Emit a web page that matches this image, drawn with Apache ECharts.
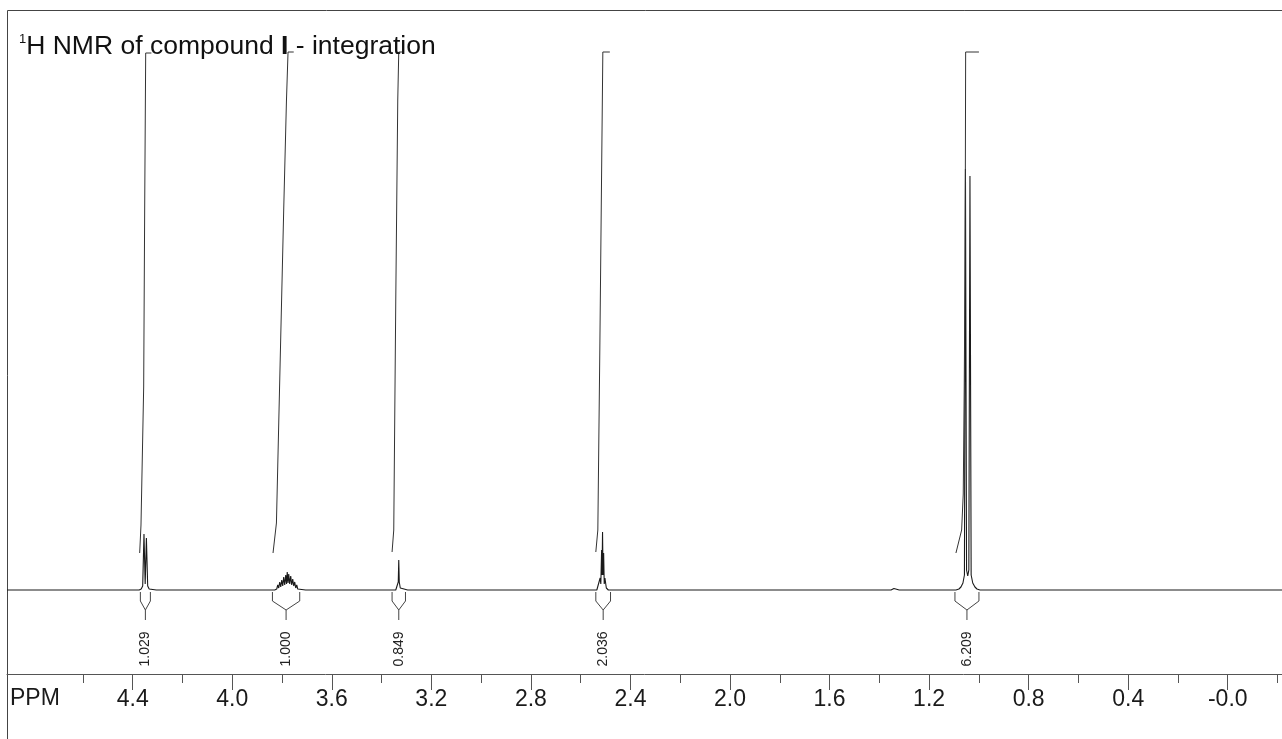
<!DOCTYPE html>
<html>
<head>
<meta charset="utf-8">
<script src="https://cdn.jsdelivr.net/npm/echarts@6/dist/echarts.min.js"></script>
<style>
html,body{margin:0;padding:0;background:#fff;}
#chart{width:1282px;height:739px;}
</style>
</head>
<body>
<div id="chart"></div>
<script>
// ---- axis extents and ticks (ppm) ----
const ppmLeft = 4.905;
const ppmRight = -0.218;
const majorTickValues = [4.4, 4.0, 3.6, 3.2, 2.8, 2.4, 2.0, 1.6, 1.2, 0.8, 0.4, 0.0];
const majorTickLabels = ['4.4', '4.0', '3.6', '3.2', '2.8', '2.4', '2.0', '1.6', '1.2', '0.8', '0.4', '-0.0'];
const minorTickValues = [4.6, 4.2, 3.8, 3.4, 3.0, 2.6, 2.2, 1.8, 1.4, 1.0, 0.6, 0.2, -0.2];

// ---- spectrum trace, [ppm, intensity] ----
const peak435 = [[4.395,0],[4.3739,0],[4.3658,1],[4.3598,4],[4.3546,56],[4.3498,6],[4.3449,52],[4.3397,4],[4.3337,1],[4.3277,0],[4.305,0]];
const peak378 = [[3.850,0],[3.8293,0],[3.8212,1],[3.8172,5],[3.8132,2],[3.8092,8],[3.8051,3],[3.8011,10],[3.7971,4],[3.7931,13],[3.7891,5],[3.7850,15],[3.7818,6],[3.7790,18],[3.7758,7],[3.7730,16],[3.7690,6],[3.7650,14],[3.7609,5],[3.7569,11],[3.7529,4],[3.7489,8],[3.7449,2],[3.7408,5],[3.7368,1],[3.7288,0],[3.705,0]];
const peak333 = [[3.365,0],[3.3429,0],[3.3369,2],[3.3329,8],[3.3309,30],[3.3289,8],[3.3248,2],[3.3188,0],[3.295,0]];
const peak251 = [[2.555,0],[2.5350,0],[2.5270,2],[2.5218,12],[2.5190,6],[2.5158,40],[2.5141,15],[2.5121,58],[2.5101,15],[2.5077,37],[2.5053,6],[2.5025,12],[2.4969,2],[2.4888,0],[2.465,0]];
const bumps136 = [[1.375,0],[1.362,0],[1.3574,1.5],[1.353,0],[1.346,0],[1.3413,1.5],[1.337,0],[1.320,0]];
const bumps120 = [[1.215,0],[1.201,0],[1.1966,1.5],[1.192,0],[1.175,0]];
const peak105 = [[1.115,0],[1.0921,0],[1.0801,1],[1.0720,3],[1.0640,7],[1.0580,15],[1.0539,421],[1.0495,20],[1.0447,14],[1.0403,20],[1.0358,414],[1.0310,15],[1.0246,7],[1.0158,3],[1.0077,1],[0.9957,0],[0.975,0]];
const bumps089 = [[0.910,0],[0.8955,0],[0.8912,1.5],[0.887,0],[0.870,0]];

// ---- integral curves, [ppm, height] ----
const integral1 = [[4.3719,37],[4.3666,65],[4.3558,203],[4.3518,381],[4.3477,537],[4.3248,537]];
const integral2 = [[3.8361,37],[3.8224,67],[3.8064,239],[3.7931,381],[3.7822,489],[3.7758,538],[3.7529,538]];
const integral3 = [[3.3578,38],[3.3510,60],[3.3429,290],[3.3349,490],[3.3309,538],[3.3108,538]];
const integral4 = [[2.5391,38],[2.5310,60],[2.5230,240],[2.5149,440],[2.5109,538],[2.4828,538]];
const integral5 = [[1.0921,37],[1.0692,60],[1.0628,96],[1.0588,203],[1.0559,310],[1.0543,417],[1.0531,538],[0.9997,538]];

// ---- integration regions and values ----
const intLeft = [4.3691, 3.8385, 3.3578, 2.5391, 1.0961];
const intRight = [4.3289, 3.7288, 3.3039, 2.4800, 0.9997];
const intValues = ['1.029', '1.000', '0.849', '2.036', '6.209'];

const FONT = "'Liberation Sans', Arial, sans-serif";

const spectrum = [[ppmLeft, 0]].concat(peak435, peak378, peak333, peak251, bumps136, bumps120, peak105, bumps089, [[ppmRight, 0]]);

const chart = echarts.init(document.getElementById('chart'), null, {renderer: 'canvas'});

function lineSeries(data, color, width) {
  return {
    type: 'line', data: data, showSymbol: false, symbol: 'none', animation: false,
    lineStyle: {color: color, width: width || 1}, silent: true, z: 3
  };
}

const integralSeries = [integral1, integral2, integral3, integral4, integral5].map(d => lineSeries(d, '#333'));

option = {
  backgroundColor: '#ffffff',
  animation: false,
  grid: {left: 7, right: 0, top: 11, bottom: 65, containLabel: false},
  xAxis: [{
    type: 'value', inverse: true, min: ppmRight, max: ppmLeft, position: 'bottom',
    axisLine: {show: true, onZero: false, lineStyle: {color: '#555', width: 1}},
    axisTick: {show: true, length: 16, lineStyle: {color: '#555', width: 1}, customValues: majorTickValues},
    axisLabel: {
      show: true, customValues: majorTickValues, margin: 14,
      color: '#1a1a1a', fontSize: 23, fontFamily: FONT,
      formatter: function (v) {
        let best = 0;
        majorTickValues.forEach((t, i) => { if (Math.abs(t - v) < Math.abs(majorTickValues[best] - v)) best = i; });
        return majorTickLabels[best];
      }
    },
    splitLine: {show: false}
  }, {
    type: 'value', inverse: true, min: ppmRight, max: ppmLeft, position: 'bottom',
    axisLine: {show: false, onZero: false},
    axisTick: {show: true, length: 9, lineStyle: {color: '#555', width: 1}, customValues: minorTickValues},
    axisLabel: {show: false, customValues: minorTickValues},
    splitLine: {show: false}
  }],
  yAxis: {type: 'value', min: -84, max: 579, show: false, splitLine: {show: false}},
  graphic: [
    {type: 'rect', shape: {x: 7.5, y: 10.5, width: 1400, height: 900}, style: {fill: 'none', stroke: '#444', lineWidth: 1}, silent: true, z: 0},
    {
      type: 'text', left: 19, top: 33, z: 10,
      style: {
        text: '{s|1}{n|H NMR of compound }{b|I}{n| - integration}',
        fill: '#111',
        rich: {
          s: {fontSize: 13, fontFamily: FONT, verticalAlign: 'top', lineHeight: 13, fill: '#111'},
          n: {fontSize: 26.5, fontFamily: FONT, lineHeight: 27, fill: '#111'},
          b: {fontSize: 26.5, fontFamily: FONT, fontWeight: 'bold', lineHeight: 27, fill: '#111'}
        }
      }
    },
    {type: 'text', left: 10, top: 687, z: 10, style: {text: 'PPM', font: '23px ' + FONT, fill: '#1a1a1a'}}
  ],
  series: [
    lineSeries(spectrum, '#1a1a1a', 1.1),
    ...integralSeries,
    {
      type: 'custom', animation: false, silent: true, clip: false, z: 4,
      data: intLeft.map((l, i) => [l, intRight[i], i]),
      encode: {x: [0, 1]},
      renderItem: function (params, api) {
        const i = api.value(2);
        const pl = api.coord([api.value(0), 0]);
        const pr = api.coord([api.value(1), 0]);
        const yb = pl[1];
        const cx = (pl[0] + pr[0]) / 2;
        const st = {stroke: '#444', lineWidth: 1, fill: 'none'};
        return {
          type: 'group',
          children: [
            {type: 'polyline', shape: {points: [[pl[0], yb + 2], [pl[0], yb + 11], [cx, yb + 20], [cx, yb + 30]]}, style: st},
            {type: 'polyline', shape: {points: [[pr[0], yb + 2], [pr[0], yb + 11], [cx, yb + 20]]}, style: st},
            {type: 'text', x: cx, y: yb + 59, rotation: Math.PI / 2,
             style: {text: intValues[i], x: 0, y: 0, align: 'center', verticalAlign: 'middle', font: '14px ' + FONT, fill: '#222'}}
          ]
        };
      }
    }
  ]
};
chart.setOption(option);
</script>
</body>
</html>
